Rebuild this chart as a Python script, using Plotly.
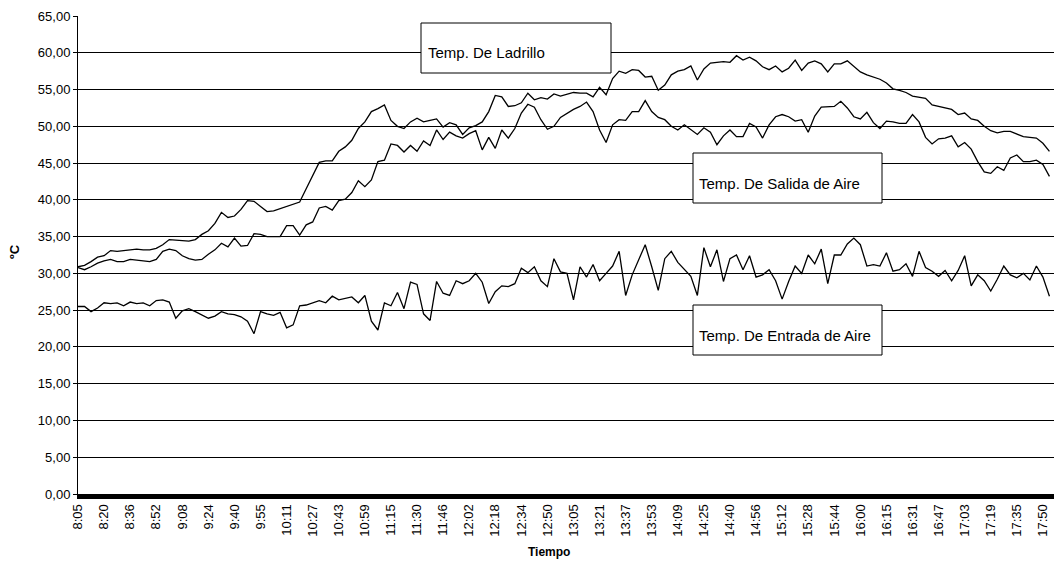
import plotly.graph_objects as go

# ---------------- data ----------------
tick_labels = ["8:05", "8:20", "8:36", "8:52", "9:08", "9:24", "9:40", "9:55",
               "10:11", "10:27", "10:43", "10:59", "11:15", "11:30", "11:46",
               "12:02", "12:18", "12:34", "12:50", "13:05", "13:21", "13:37",
               "13:53", "14:09", "14:25", "14:40", "14:56", "15:12", "15:28",
               "15:44", "16:00", "16:15", "16:31", "16:47", "17:03", "17:19",
               "17:35", "17:50"]
SAMPLES_PER_TICK = 4

y_ticks = [0, 5, 10, 15, 20, 25, 30, 35, 40, 45, 50, 55, 60, 65]
y_tick_labels = ["0,00", "5,00", "10,00", "15,00", "20,00", "25,00", "30,00",
                 "35,00", "40,00", "45,00", "50,00", "55,00", "60,00", "65,00"]

ladrillo = [
    30.9, 31.1, 31.6, 32.2, 32.4, 33.1, 33.0, 33.1, 33.2, 33.3, 33.2, 33.2, 33.4,
    33.9, 34.6, 34.5, 34.4, 34.4, 34.6, 35.3, 35.8, 36.8, 38.3, 37.6, 37.8, 38.7,
    39.9,
    39.8, 39.1, 38.4, 38.5, 38.8, 39.2, 39.4, 39.7, 41.5, 43.3, 45.1, 45.3, 45.3,
    46.6, 47.2, 48.1, 49.7, 50.6, 52.0, 52.4, 52.9, 50.8, 50.0, 49.7, 50.6,
    51.1, 50.6, 50.8, 51.0, 49.9, 50.5, 50.2, 48.9, 49.8, 50.1, 50.6, 52.0, 54.2,
    54.0, 52.7, 52.8, 53.2, 54.5, 53.6, 53.9, 53.7, 54.4, 54.1, 54.3, 54.6, 54.5,
    54.5, 54.0, 55.3, 54.3, 56.5, 57.5, 57.2, 57.7, 57.6, 56.7, 56.8, 54.9, 55.6,
    57.0, 57.5, 57.7, 58.2, 56.3, 57.8, 58.6, 58.7, 58.8, 58.7, 59.6, 59.0,
    59.4, 58.9, 58.1, 57.7, 58.2, 57.4, 57.9, 59.0, 57.6, 58.6, 58.9, 58.5, 57.4,
    58.5, 58.5, 58.9, 58.1, 57.4, 57.0, 56.7, 56.4, 55.9, 55.1, 54.9, 54.6,
    54.1, 54.0, 53.8, 52.9, 52.7, 52.5, 52.3, 51.6, 51.8, 51.0, 50.8, 50.0, 49.4,
    49.1, 49.3, 49.3, 48.9, 48.6, 48.5, 48.4, 47.7, 46.6,
]

salida = [
    30.8, 30.5, 30.9, 31.4, 31.7, 31.9, 31.6, 31.6, 31.9, 31.8, 31.6, 31.6, 31.9,
    33.0, 33.3, 33.1, 32.4, 32.0, 31.8, 31.9, 32.6, 33.2, 34.1, 33.6, 34.8, 33.7,
    33.8,
    35.4, 35.3, 35.0, 35.0, 35.0, 36.5, 36.5, 35.2, 36.6, 37.0, 38.9, 39.1, 38.6,
    39.9, 40.1, 41.0, 42.6, 41.8, 42.7, 45.2, 45.4, 47.6, 47.4, 46.5, 47.4,
    46.6, 48.0, 47.4, 49.5, 48.2, 49.2, 48.7, 48.4, 49.0, 49.4, 46.8, 48.5, 47.0,
    49.5, 48.4, 49.7, 51.8, 53.0, 52.6, 50.9, 49.6, 50.0, 51.2, 51.8, 52.3, 52.7,
    53.3, 52.0, 49.5, 47.8, 50.2, 50.9, 50.8, 52.0, 52.0, 53.5, 52.0, 51.2, 50.9,
    50.0, 49.5, 50.2, 49.6, 48.9, 49.8, 49.2, 47.5, 48.7, 49.5, 48.6, 48.6,
    50.4, 49.9, 48.4, 50.2, 51.3, 51.6, 51.3, 50.7, 50.9, 49.2, 51.4, 52.6, 52.6,
    52.7, 53.4, 52.5, 51.3, 51.0, 51.9, 50.5, 49.7, 50.7, 50.6, 50.4, 50.4,
    51.6, 50.6, 48.5, 47.6, 48.3, 48.4, 48.7, 47.2, 47.8, 46.9, 45.2, 43.8, 43.6,
    44.5, 44.0, 45.7, 46.1, 45.2, 45.2, 45.4, 44.8, 43.2,
]

entrada = [
    25.5, 25.5, 24.8, 25.3, 26.0, 25.9, 26.0, 25.6, 26.1, 25.9, 26.0, 25.6, 26.3,
    26.4, 26.1, 23.9, 24.9, 25.2, 24.8, 24.3, 23.9, 24.2, 24.8, 24.5, 24.4, 24.1,
    23.5,
    21.8, 24.8, 24.5, 24.3, 24.7, 22.6, 23.0, 25.6, 25.7, 26.0, 26.3, 26.0, 26.9,
    26.4, 26.6, 26.8, 26.0, 27.0, 23.5, 22.3, 26.0, 25.6, 27.4, 25.2, 28.8,
    28.5, 24.5, 23.6, 28.9, 27.3, 27.0, 29.0, 28.6, 29.0, 30.0, 28.8, 25.9, 27.5,
    28.3, 28.2, 28.6, 30.7, 30.1, 30.9, 29.0, 28.2, 32.0, 30.2, 30.0, 26.4, 30.9,
    29.5, 31.2, 29.0, 30.0, 31.0, 33.0, 27.0, 29.8, 31.8, 33.9, 30.9, 27.7, 32.0,
    33.0, 31.5, 30.5, 29.6, 27.0, 33.5, 30.9, 33.2, 28.9, 32.0, 32.5, 30.5,
    32.4, 29.5, 29.8, 30.5, 29.0, 26.5, 28.9, 31.0, 30.0, 32.5, 31.3, 33.3, 28.6,
    32.5, 32.5, 34.0, 34.8, 33.9, 31.0, 31.2, 31.0, 32.8, 30.3, 30.5, 31.3,
    29.6, 33.0, 30.8, 30.3, 29.6, 30.4, 29.0, 30.4, 32.4, 28.3, 29.8, 29.0, 27.6,
    29.2, 31.0, 29.8, 29.4, 30.0, 29.1, 31.0, 29.5, 26.9,
]

series_names = ["Temp. De Ladrillo", "Temp. De Salida de Aire", "Temp. De Entrada de Aire"]

# ---------------- layout geometry (pixels) ----------------
W, H = 1054, 569
PL, PR, PT, PB = 78, 1054, 16, 494   # plot area edges


def px_x(px):
    return (px - PL) / (PR - PL)


def px_y(py):
    return (PB - py) / (PB - PT)


FONT = "Liberation Sans, Arial, sans-serif"

fig = go.Figure()
for name, vals in zip(series_names, [ladrillo, salida, entrada]):
    fig.add_trace(go.Scatter(
        x=list(range(len(vals))), y=vals, mode="lines", name=name,
        line=dict(color="black", width=1.3), showlegend=False,
        hoverinfo="x+y+name",
    ))

tick_vals = [k * SAMPLES_PER_TICK for k in range(len(tick_labels))]

fig.update_layout(
    width=W, height=H,
    margin=dict(l=PL, r=W - PR, t=PT, b=H - PB, pad=0),
    paper_bgcolor="white", plot_bgcolor="white",
    font=dict(family=FONT, size=13, color="black"),
    xaxis=dict(
        range=[0, 149.7], tickmode="array", tickvals=tick_vals, ticktext=tick_labels,
        tickangle=-90, showgrid=False, zeroline=False,
        showline=True, linewidth=5, linecolor="black", ticks="",
        tickfont=dict(size=13, family=FONT, color="black"),
    ),
    yaxis=dict(
        range=[0, 65], tickmode="array", tickvals=y_ticks, ticktext=y_tick_labels,
        showgrid=True, gridcolor="black", gridwidth=1, zeroline=False,
        showline=True, linewidth=1, linecolor="black",
        ticks="outside", ticklen=4, tickcolor="black", tickwidth=1,
        tickfont=dict(size=13, family=FONT, color="black"),
    ),
)

# text boxes (white boxes with border) and their labels
boxes = [
    (421, 611, 23, 73, 426, 53, series_names[0]),
    (693, 882, 153, 203, 697, 183, series_names[1]),
    (693, 882, 305, 355, 697, 335, series_names[2]),
]
for x0, x1, y0, y1, tx, ty, label in boxes:
    fig.add_shape(type="rect", xref="paper", yref="paper",
                  x0=px_x(x0), x1=px_x(x1), y0=px_y(y1), y1=px_y(y0),
                  line=dict(color="black", width=1), fillcolor="white", layer="above")
    fig.add_annotation(xref="paper", yref="paper", x=px_x(tx), y=px_y(ty),
                       xanchor="left", yanchor="middle", showarrow=False,
                       text=label, font=dict(size=15, family=FONT, color="black"))

# axis titles
fig.add_annotation(xref="paper", yref="paper", x=px_x(15), y=px_y(252),
                   xanchor="center", yanchor="middle", showarrow=False, textangle=-90,
                   text="<b>ºC</b>", font=dict(size=13, family=FONT, color="black"))
fig.add_annotation(xref="paper", yref="paper", x=px_x(549), y=px_y(552),
                   xanchor="center", yanchor="middle", showarrow=False,
                   text="<b>Tiempo</b>", font=dict(size=12, family=FONT, color="black"))

fig.write_html("out.html", config={"displayModeBar": False},
               post_script="document.body.style.margin='0';")
